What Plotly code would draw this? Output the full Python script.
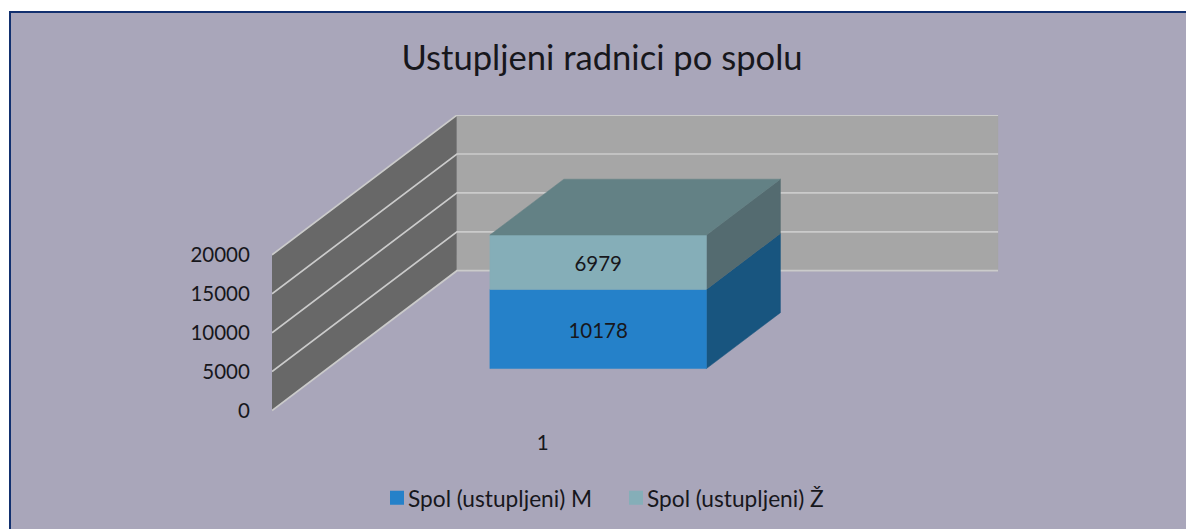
import plotly.graph_objects as go

# ---- data ----
categories = ["1"]
series_names = ["Spol (ustupljeni) M", "Spol (ustupljeni) Ž"]
values_m = [10178]
values_z = [6979]
value_ticks = [0, 5000, 10000, 15000, 20000]

# ---- style / oblique projection ----
W, H = 1186, 529
PX_PER_VALUE = 38.9 / 5000
SHIFT_X = 185 / 541.6          # depth shift, in category units
SHIFT_Y = 139.8 / PX_PER_VALUE  # depth shift, in value units
PLOT_L, PLOT_R, PLOT_T, PLOT_B = 272, 998.3, 115, 428
ZERO_Y = 410.5
BAR_HALF = 0.2
D0, D1 = 0.3, 0.7
LABEL_DROP_PX = 4

C_BG = "#a9a6ba"
C_SIDE = "#686868"
C_BACK = "#a6a6a6"
C_GRID = "#cbcbcb"
C_TEXT = "#17171c"
COL = {
    "m": dict(front="#2581c9", side="#18557f"),
    "z": dict(front="#85aeb8", side="#546b70", top="#638185"),
}


def proj(x, v, d):
    return x + d * SHIFT_X, v + d * SHIFT_Y


def poly(points, color, **kw):
    xs, ys = zip(*[proj(*p) for p in points])
    return go.Scatter(
        x=list(xs) + [xs[0]], y=list(ys) + [ys[0]], mode="lines", fill="toself",
        fillcolor=color, line=dict(color=color, width=0.5), hoverinfo="skip",
        showlegend=False, **kw,
    )


fig = go.Figure()
xa, xb = 0.5, 1.5
top_tick = value_ticks[-1]

# walls
fig.add_trace(poly([(xa, 0, 0), (xa, 0, 1), (xa, top_tick, 1), (xa, top_tick, 0)], C_SIDE))
fig.add_trace(poly([(xa, 0, 1), (xb, 0, 1), (xb, top_tick, 1), (xa, top_tick, 1)], C_BACK))

# gridlines run along both walls
for v in value_ticks:
    pts = [proj(xa, v, 0), proj(xa, v, 1), proj(xb, v, 1)]
    fig.add_trace(go.Scatter(
        x=[p[0] for p in pts], y=[p[1] for p in pts], mode="lines",
        line=dict(color=C_GRID, width=1.7), hoverinfo="skip", showlegend=False,
    ))

# stacked 3D column
for i, cat in enumerate(categories):
    c = int(cat)
    l, r = c - BAR_HALF, c + BAR_HALF
    base = 0
    for key, val in (("m", values_m[i]), ("z", values_z[i])):
        top = base + val
        fig.add_trace(poly([(r, base, D0), (r, base, D1), (r, top, D1), (r, top, D0)], COL[key]["side"]))
        fig.add_trace(poly([(l, base, D0), (r, base, D0), (r, top, D0), (l, top, D0)], COL[key]["front"]))
        base = top
    fig.add_trace(poly([(l, base, D0), (r, base, D0), (r, base, D1), (l, base, D1)], COL["z"]["top"]))

    # data labels
    base = 0
    for val in (values_m[i], values_z[i]):
        px, py = proj(c, base + val / 2, D0)
        fig.add_trace(go.Scatter(
            x=[px], y=[py - LABEL_DROP_PX / PX_PER_VALUE], mode="text", text=[str(val)],
            textposition="middle center",
            textfont=dict(family="Lato", size=20.5, color=C_TEXT),
            hoverinfo="skip", showlegend=False,
        ))
        base += val

# legend-only entries
for name, key in zip(series_names, ("m", "z")):
    fig.add_trace(go.Scatter(
        x=[None], y=[None], mode="markers", name=name,
        marker=dict(symbol="square", size=14, color=COL[key]["front"]),
    ))

fig.update_layout(
    width=W, height=H, autosize=False,
    margin=dict(l=0, r=0, t=0, b=0),
    paper_bgcolor="white", plot_bgcolor="rgba(0,0,0,0)",
    font=dict(family="Lato", color=C_TEXT, size=20.5),
    title=dict(
        text="Ustupljeni radnici po spolu", x=602 / W, xanchor="center",
        y=1 - 57.5 / H, yanchor="middle", font=dict(family="Lato", size=34.6, color=C_TEXT),
    ),
    xaxis=dict(
        domain=[PLOT_L / W, PLOT_R / W],
        range=[xa, xb + SHIFT_X],
        tickmode="array", tickvals=[int(c) for c in categories], ticktext=categories,
        showgrid=False, zeroline=False, showline=False,
        ticks="", fixedrange=True,
    ),
    yaxis=dict(
        domain=[1 - PLOT_B / H, 1 - PLOT_T / H],
        range=[-(PLOT_B - ZERO_Y) / PX_PER_VALUE, (ZERO_Y - PLOT_T) / PX_PER_VALUE],
        tickmode="array", tickvals=value_ticks, ticktext=[str(v) for v in value_ticks],
        showgrid=False, zeroline=False, showline=False,
        ticks="outside", ticklen=17, tickcolor="rgba(0,0,0,0)",
        fixedrange=True,
    ),
    legend=dict(
        orientation="h", x=368 / W, xanchor="left", y=1 - 498 / H, yanchor="middle",
        font=dict(family="Lato", size=22.7, color=C_TEXT),
        bgcolor="rgba(0,0,0,0)", itemclick=False, itemdoubleclick=False,
        entrywidth=194, entrywidthmode="pixels", traceorder="normal",
    ),
    shapes=[dict(
        type="rect", xref="paper", yref="paper", layer="below",
        x0=10 / W, x1=1.02, y0=-0.02, y1=1 - 12 / H,
        fillcolor=C_BG, line=dict(color="#12306f", width=2),
    )],
)

# page without body margin; legend swatches sit close to their text
POST = """
document.body.style.margin = '0';
document.querySelectorAll('.legendsymbols').forEach(function (n) {
    n.setAttribute('transform', 'translate(9,0)');
});
"""
fig.write_html("out.html", config=dict(displayModeBar=False), post_script=POST)
